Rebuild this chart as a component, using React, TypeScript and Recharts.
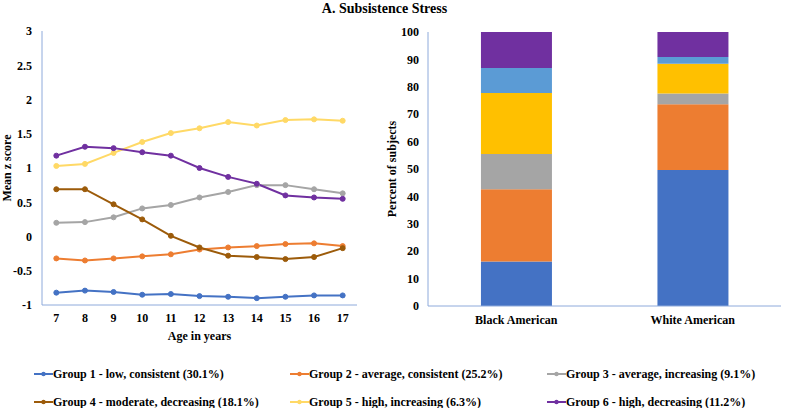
import React from 'react';
import { LineChart, Line, BarChart, Bar, XAxis, YAxis, Label } from 'recharts';

const ages = [7, 8, 9, 10, 11, 12, 13, 14, 15, 16, 17];
const group1 = [-0.82, -0.79, -0.81, -0.85, -0.84, -0.87, -0.88, -0.9, -0.88, -0.86, -0.86];
const group2 = [-0.32, -0.35, -0.32, -0.29, -0.26, -0.19, -0.16, -0.14, -0.11, -0.1, -0.14];
const group3 = [0.2, 0.21, 0.28, 0.41, 0.46, 0.57, 0.65, 0.75, 0.75, 0.69, 0.63];
const group4 = [0.69, 0.69, 0.47, 0.25, 0.01, -0.16, -0.28, -0.3, -0.33, -0.3, -0.17];
const group5 = [1.03, 1.06, 1.22, 1.38, 1.51, 1.58, 1.67, 1.62, 1.7, 1.71, 1.69];
const group6 = [1.18, 1.31, 1.29, 1.23, 1.18, 1.0, 0.87, 0.77, 0.6, 0.57, 0.55];

const groupNames = [
  'Group 1 - low, consistent (30.1%)',
  'Group 2 - average, consistent (25.2%)',
  'Group 3 - average, increasing (9.1%)',
  'Group 4 - moderate, decreasing (18.1%)',
  'Group 5 - high, increasing (6.3%)',
  'Group 6 - high, decreasing (11.2%)',
];
const lineColors = ['#4472C4', '#ED7D31', '#A5A5A5', '#9C5B0A', '#FFD966', '#7030A0'];

const races = ['Black American', 'White American'];
const seg1 = [16.2, 49.6];
const seg2 = [26.4, 24.0];
const seg3 = [12.9, 4.0];
const seg4 = [22.2, 10.8];
const seg5 = [9.2, 2.5];
const seg6 = [13.1, 9.1];
const barColors = ['#4472C4', '#ED7D31', '#A5A5A5', '#FFC000', '#5B9BD5', '#7030A0'];

const yTicksLine = [-1, -0.5, 0, 0.5, 1, 1.5, 2, 2.5, 3];
const yTicksBar = [0, 10, 20, 30, 40, 50, 60, 70, 80, 90, 100];

const groups = [group1, group2, group3, group4, group5, group6];
const lineData = ages.map((age, i) => {
  const row: any = { age };
  groups.forEach((g, k) => (row['g' + (k + 1)] = g[i]));
  return row;
});
const segs = [seg1, seg2, seg3, seg4, seg5, seg6];
const barData = races.map((race, i) => {
  const row: any = { race };
  segs.forEach((s, k) => (row['s' + (k + 1)] = s[i]));
  return row;
});

const FONT = '"Liberation Serif", "Times New Roman", serif';
const BORDER = '#8EAADB';
const tickStyle = { fill: '#000', fontFamily: FONT, fontWeight: 700, fontSize: 12 };

export default function App() {
  return (
    <div style={{ position: 'absolute', left: 0, top: 0, width: 787, height: 408, background: '#fff', fontFamily: FONT }}>
      <div style={{ position: 'absolute', left: 0, top: 0 }}>
        <LineChart width={370} height={345} data={lineData} margin={{ top: 31, right: 13, bottom: 0, left: 0 }}>
          <XAxis
            dataKey="age"
            type="number"
            domain={[6.5, 17.5]}
            ticks={ages}
            height={40}
            tickSize={0}
            tickMargin={8}
            tick={tickStyle}
            axisLine={{ stroke: BORDER }}
          >
            <Label value="Age in years" position="insideBottom" offset={5} style={tickStyle} />
          </XAxis>
          <XAxis xAxisId="top" orientation="top" dataKey="age" type="number" domain={[6.5, 17.5]} height={0} tick={false} tickLine={false} axisLine={{ stroke: BORDER }} />
          <YAxis
            type="number"
            domain={[-1, 3]}
            ticks={yTicksLine}
            width={42}
            tickSize={0}
            tickMargin={10}
            tick={tickStyle}
            axisLine={{ stroke: BORDER }}
          />
          <YAxis yAxisId="right" orientation="right" type="number" domain={[-1, 3]} width={0} tick={false} tickLine={false} axisLine={{ stroke: BORDER }} />
          {groupNames.map((name, k) => (
            <Line
              key={name}
              name={name}
              dataKey={'g' + (k + 1)}
              stroke={lineColors[k]}
              strokeWidth={2}
              dot={{ r: 2.5, fill: lineColors[k], stroke: lineColors[k], strokeWidth: 1 }}
              isAnimationActive={false}
            />
          ))}
        </LineChart>
      </div>
      <div style={{ position: 'absolute', left: 360, top: 0 }}>
        <BarChart width={427} height={345} data={barData} margin={{ top: 32, right: 6, bottom: 0, left: 0 }} barCategoryGap="30%">
          <XAxis dataKey="race" height={39} tickSize={0} tickMargin={9} tick={tickStyle} axisLine={{ stroke: BORDER }} />
          <XAxis xAxisId="top" orientation="top" dataKey="race" height={0} tick={false} tickLine={false} axisLine={{ stroke: BORDER }} />
          <YAxis type="number" domain={[0, 100]} ticks={yTicksBar} width={68} tickSize={0} tickMargin={9} tick={tickStyle} axisLine={{ stroke: BORDER }} />
          <YAxis yAxisId="right" orientation="right" type="number" domain={[0, 100]} width={0} tick={false} tickLine={false} axisLine={{ stroke: BORDER }} />
          {segs.map((_, k) => (
            <Bar key={k} dataKey={'s' + (k + 1)} stackId="a" fill={barColors[k]} isAnimationActive={false} />
          ))}
        </BarChart>
      </div>
      <svg width={787} height={345} style={{ position: 'absolute', left: 0, top: 0, pointerEvents: 'none' }}>
        <text x={384.5} y={13} textAnchor="middle" fontFamily={FONT} fontWeight={700} fontSize={14} fill="#000">
          A. Subsistence Stress
        </text>
        <text x={7} y={168} transform="rotate(-90, 7, 168)" textAnchor="middle" dominantBaseline="central" fontFamily={FONT} fontWeight={700} fontSize={12} fill="#000">
          Mean z score
        </text>
        <text x={392} y={169} transform="rotate(-90, 392, 169)" textAnchor="middle" dominantBaseline="central" fontFamily={FONT} fontWeight={700} fontSize={12} fill="#000">
          Percent of subjects
        </text>
      </svg>
      {groupNames.map((name, k) => {
        const col = k % 3;
        const row = Math.floor(k / 3);
        const left = [34, 290, 547][col];
        const top = [374, 402][row];
        return (
          <div
            key={name}
            style={{ position: 'absolute', left, top: top - 9, height: 18, display: 'flex', alignItems: 'center', whiteSpace: 'nowrap' }}
          >
            <svg width={19} height={8} style={{ display: 'block' }}>
              <line x1={0} y1={4} x2={19} y2={4} stroke={lineColors[k]} strokeWidth={2} />
              <circle cx={9.5} cy={4} r={2.2} fill={lineColors[k]} />
            </svg>
            <span style={{ fontFamily: FONT, fontWeight: 700, fontSize: 12, color: '#000', lineHeight: '18px' }}>{name}</span>
          </div>
        );
      })}
    </div>
  );
}
